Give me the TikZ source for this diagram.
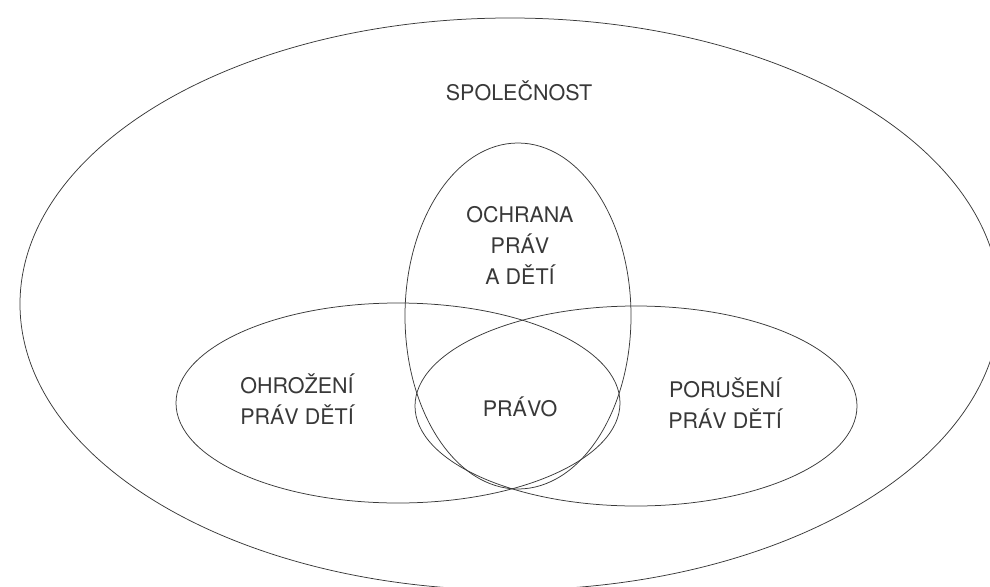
\documentclass[tikz,border=0pt]{standalone}
\usepackage{fontspec}
\setmainfont{TeX Gyre Heros}
\begin{document}
\begin{tikzpicture}[x=1pt,y=-1pt,line width=0.75pt,color=black!78,
    lbl/.style={align=center,font=\fontsize{21.5}{31}\selectfont}]
       
        \useasboundingbox (0,0) rectangle (990,586);
        \draw (510,304) ellipse [x radius=490pt, y radius=286pt];
        \draw (518,316) ellipse [x radius=113pt, y radius=173pt];
        \draw (398,403) ellipse [x radius=222pt, y radius=100pt];
        \draw (636,406) ellipse [x radius=221pt, y radius=100pt];

        \node[lbl] (spol) at (519,91) {SPOLEČNOST};
        \node[lbl] (ochr) at (520,245) {OCHRANA\\PRÁV\\A DĚTÍ};
        \node[lbl] (ohr) at (297,399) {OHROŽENÍ\\PRÁV DĚTÍ};
        \node[lbl] (por) at (725,403) {PORUŠENÍ\\PRÁV DĚTÍ};
        \node[lbl] (pravo) at (520,407) {PRÁVO};
       
\end{tikzpicture}
\end{document}
